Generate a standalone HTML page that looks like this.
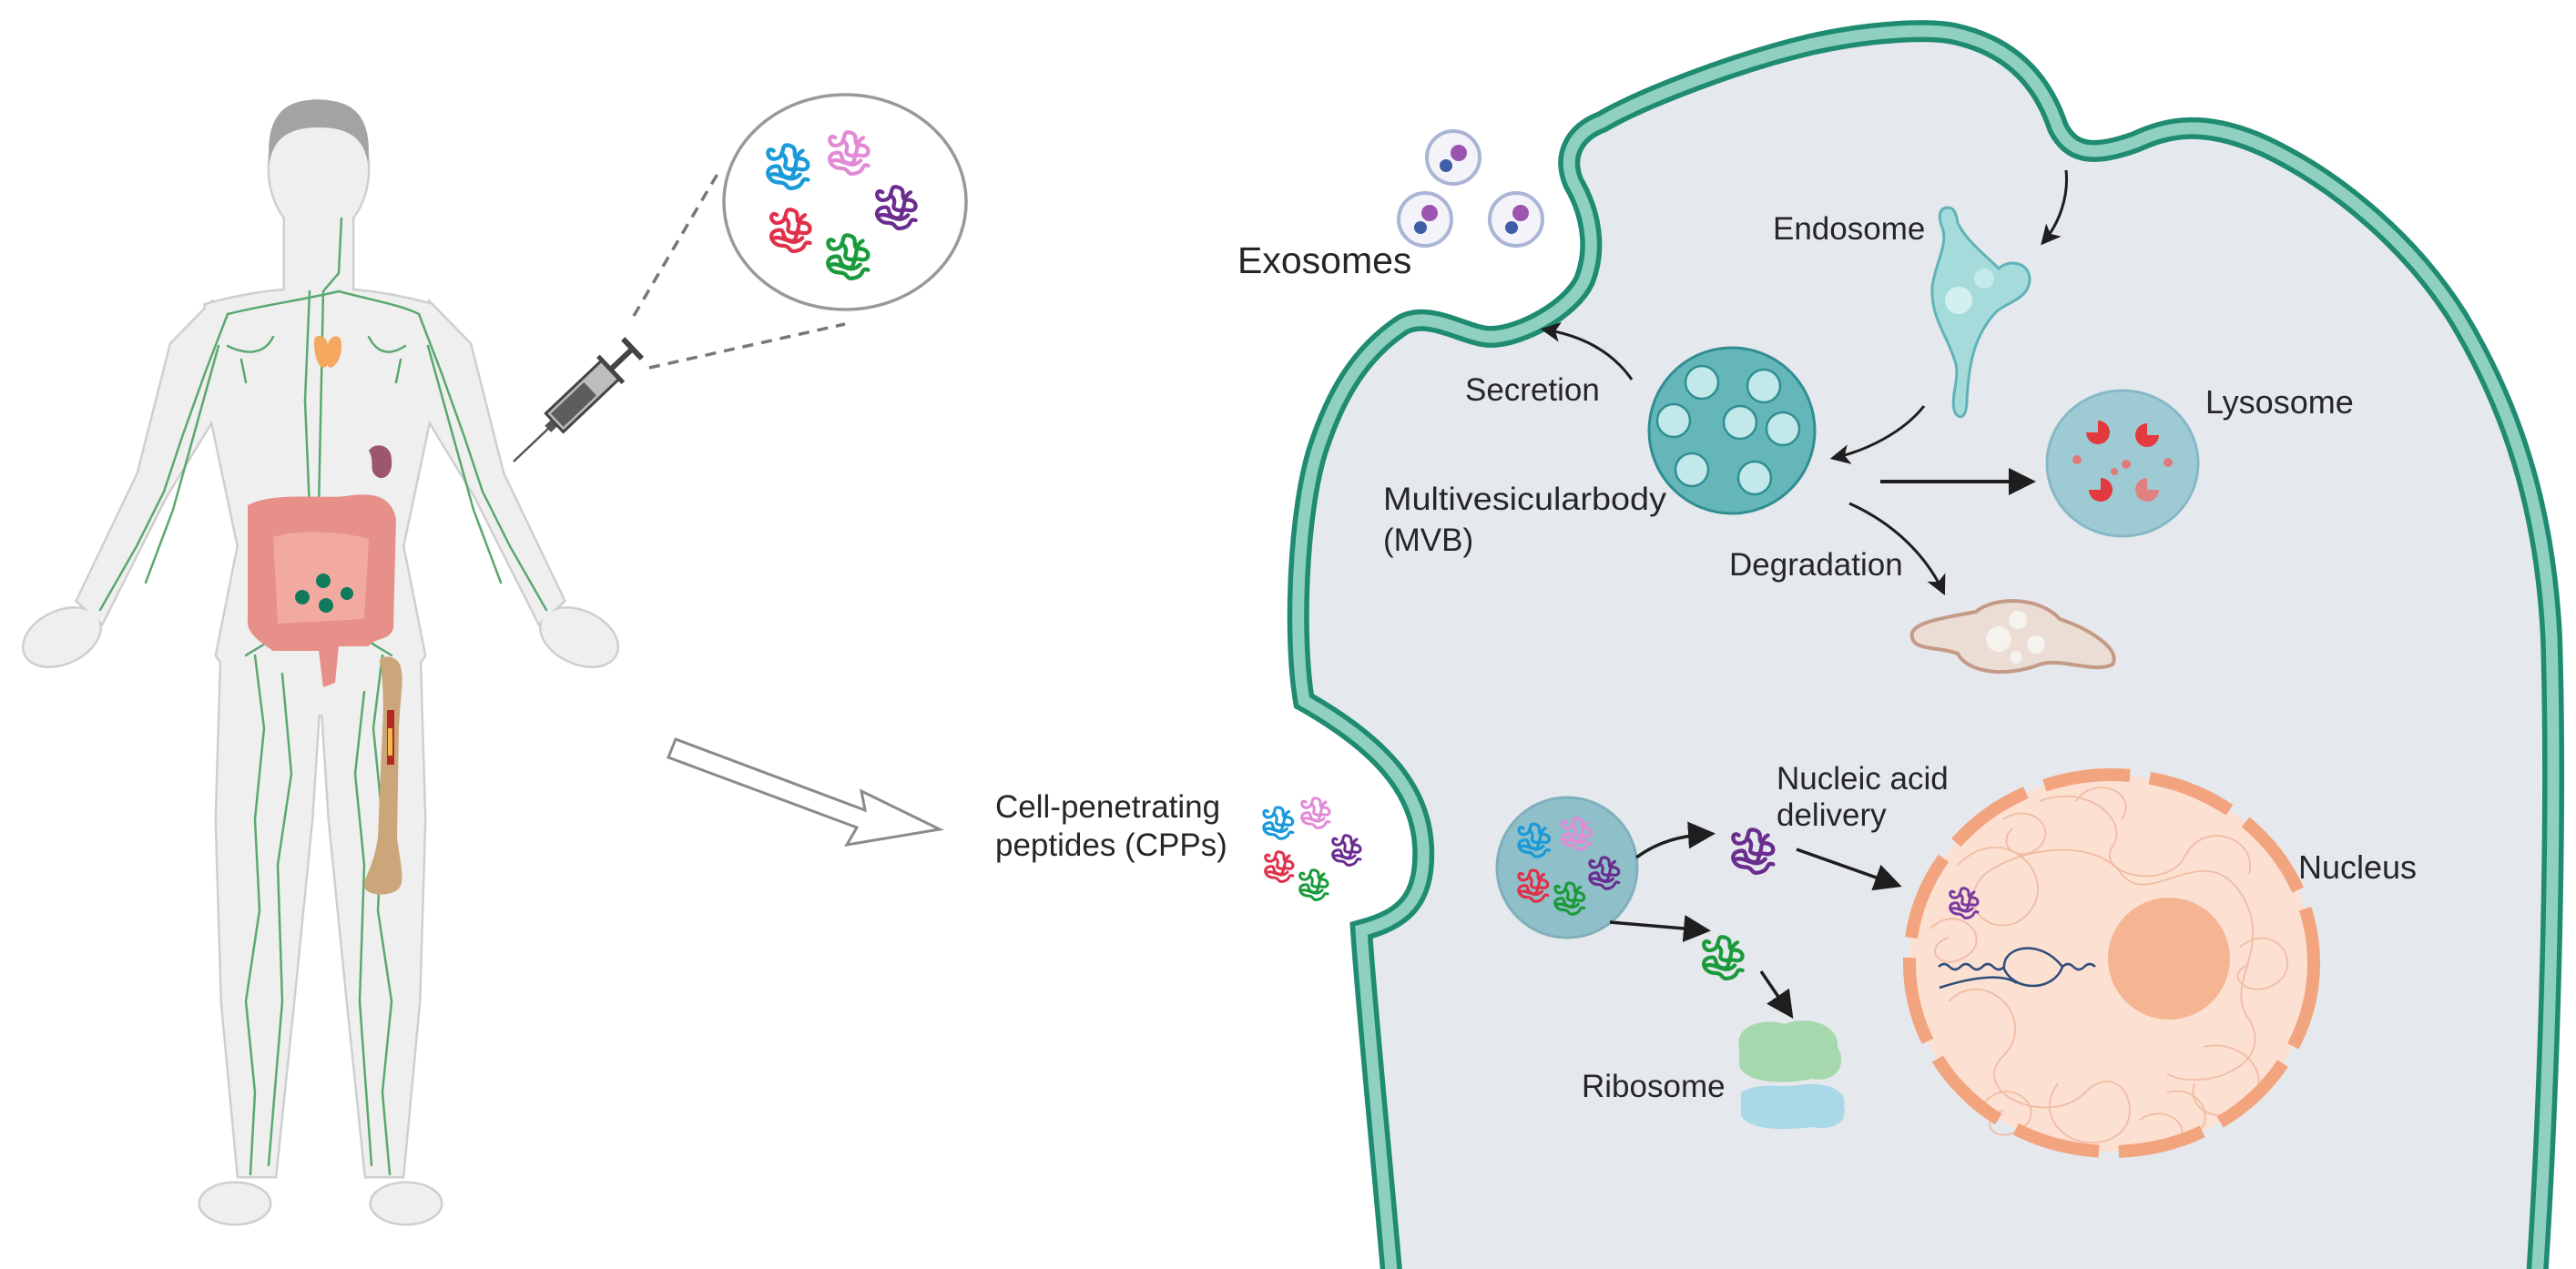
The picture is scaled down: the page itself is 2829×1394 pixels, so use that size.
<!DOCTYPE html>
<html><head><meta charset="utf-8"><style>
html,body{margin:0;padding:0;background:#fff;}
svg{display:block;}
text{font-family:"Liberation Sans",Arial,sans-serif;fill:#262626;}
</style></head><body>
<svg width="2829" height="1394" viewBox="0 0 2829 1394" xmlns="http://www.w3.org/2000/svg">
<defs>
<marker id="ah" viewBox="0 0 10 10" refX="8" refY="5" markerWidth="22" markerHeight="22" markerUnits="userSpaceOnUse" orient="auto"><path d="M0 0 L10 5 L0 10 L2.5 5 Z" fill="#1e1e1e"/></marker>
<marker id="ah2" viewBox="0 0 10 10" refX="8" refY="5" markerWidth="30" markerHeight="30" markerUnits="userSpaceOnUse" orient="auto"><path d="M0 0 L10 5 L0 10 Z" fill="#1e1e1e"/></marker>
<symbol id="sq" viewBox="0 0 40 40"><path d="M8 8 C 2 4, 2 16, 10 14 C 18 12, 12 2, 20 4 C 28 6, 20 14, 28 14 C 36 14, 36 24, 28 22 C 20 20, 26 30, 18 28 C 10 26, 16 18, 8 20 C 0 22, 4 32, 12 32 C 20 32, 16 38, 24 36 C 32 34, 28 28, 34 30 M14 10 C 22 16, 12 20, 20 22 C 28 24, 22 12, 30 8 M6 26 C 14 24, 20 34, 28 26" fill="none" stroke="currentColor" stroke-width="3" stroke-linecap="round"/></symbol>
</defs>

<!-- HUMAN -->
<g id="body">
<g stroke="#cfcfcf" stroke-width="5" fill="#cfcfcf">
 <ellipse cx="350" cy="185" rx="54" ry="74"/>
 <rect x="313" y="240" width="74" height="90"/>
 <path d="M226 335 Q 350 300 474 335 L 480 420 L 442 600 L 466 720 L 420 785 L 285 785 L 238 720 L 262 600 L 224 420 Z"/>
 <path d="M232 333 L 188 378 L 152 520 L 85 660 L 112 684 L 182 545 L 252 430 Z"/>
 <ellipse cx="68" cy="700" rx="44" ry="28" transform="rotate(-25 68 700)"/>
 <path d="M244 700 L 352 745 L 342 900 L 322 1100 L 302 1292 L 262 1292 L 244 1100 L 238 900 Z"/>
 <ellipse cx="258" cy="1322" rx="38" ry="22"/>
 <g transform="translate(704 0) scale(-1 1)">
  <path d="M232 333 L 188 378 L 152 520 L 85 660 L 112 684 L 182 545 L 252 430 Z"/>
  <ellipse cx="68" cy="700" rx="44" ry="28" transform="rotate(-25 68 700)"/>
  <path d="M244 700 L 352 745 L 342 900 L 322 1100 L 302 1292 L 262 1292 L 244 1100 L 238 900 Z"/>
  <ellipse cx="258" cy="1322" rx="38" ry="22"/>
 </g>
</g>
<g fill="#efefef">
 <ellipse cx="350" cy="185" rx="54" ry="74"/>
 <rect x="313" y="240" width="74" height="90"/>
 <path d="M226 335 Q 350 300 474 335 L 480 420 L 442 600 L 466 720 L 420 785 L 285 785 L 238 720 L 262 600 L 224 420 Z"/>
 <path d="M232 333 L 188 378 L 152 520 L 85 660 L 112 684 L 182 545 L 252 430 Z"/>
 <ellipse cx="68" cy="700" rx="44" ry="28" transform="rotate(-25 68 700)"/>
 <path d="M244 700 L 352 745 L 342 900 L 322 1100 L 302 1292 L 262 1292 L 244 1100 L 238 900 Z"/>
 <ellipse cx="258" cy="1322" rx="38" ry="22"/>
 <g transform="translate(704 0) scale(-1 1)">
  <path d="M232 333 L 188 378 L 152 520 L 85 660 L 112 684 L 182 545 L 252 430 Z"/>
  <ellipse cx="68" cy="700" rx="44" ry="28" transform="rotate(-25 68 700)"/>
  <path d="M244 700 L 352 745 L 342 900 L 322 1100 L 302 1292 L 262 1292 L 244 1100 L 238 900 Z"/>
  <ellipse cx="258" cy="1322" rx="38" ry="22"/>
 </g>
</g>
<path d="M296 180 C 290 120, 320 108, 352 110 C 385 110, 410 125, 404 180 C 400 150, 380 140, 350 140 C 320 140, 300 150, 296 180 Z" fill="#a3a3a3"/>
<!-- lymph -->
<g fill="none" stroke="#5aa870" stroke-width="2.5" stroke-linecap="round">
 <path d="M375 240 L 372 300 L 355 320 L 350 560"/>
 <path d="M340 320 L 335 440 L 340 560"/>
 <path d="M250 345 C 290 335, 330 330, 372 320 C 410 330, 440 335, 460 345"/>
 <path d="M250 345 L 225 410 L 200 480 L 180 540 L 150 600 L 110 670"/>
 <path d="M240 380 L 215 470 L 190 560 L 160 640"/>
 <path d="M460 345 L 485 410 L 510 480 L 530 540 L 560 600 L 600 670"/>
 <path d="M470 380 L 495 470 L 520 560 L 550 640"/>
 <path d="M250 380 C 270 390, 290 390, 300 370 M265 395 L 270 420 M445 380 C 430 390, 415 390, 405 370 M440 395 L 435 420"/>
 <path d="M280 720 L 290 800 L 280 900 L 285 1000 L 270 1100 L 280 1200 L 275 1290"/>
 <path d="M310 740 L 320 850 L 305 950 L 310 1100 L 295 1280"/>
 <path d="M420 720 L 410 800 L 420 900 L 415 1000 L 430 1100 L 420 1200 L 428 1290"/>
 <path d="M400 760 L 390 850 L 400 950 L 395 1100 L 408 1280"/>
 <path d="M270 720 C 300 700, 330 700, 350 560 C 370 700, 400 700, 430 720"/>
</g>
<path d="M345 375 C 345 365, 358 368, 360 378 C 362 368, 375 365, 375 378 C 376 400, 360 410, 360 400 C 355 410, 345 400, 345 375 Z" fill="#f5a85f"/>
<path d="M405 495 C 412 485, 430 488, 430 505 C 432 522, 420 530, 412 522 C 405 515, 412 508, 405 495 Z" fill="#9c5670"/>
<path d="M272 555 C 300 540, 350 548, 380 545 C 410 540, 430 545, 435 570 L 432 690 C 428 705, 410 700, 405 710 L 372 710 L 368 750 L 355 755 L 350 715 L 300 715 C 285 705, 270 695, 272 680 Z" fill="#e7908a"/>
<path d="M300 590 C 330 580, 380 585, 405 592 L 400 680 L 305 685 Z" fill="#f2aaa0"/>
<g fill="#0f7a5c"><circle cx="332" cy="656" r="8"/><circle cx="355" cy="638" r="8"/><circle cx="358" cy="665" r="8"/><circle cx="381" cy="652" r="7"/></g>
<path d="M418 730 C 412 720, 432 718, 438 728 C 445 740, 440 760, 438 800 L 436 920 C 440 950, 445 968, 438 976 C 430 985, 405 985, 400 975 C 398 965, 410 955, 415 920 L 420 800 C 422 770, 420 745, 418 730 Z" fill="#caa67a"/>
<rect x="425" y="780" width="8" height="60" fill="#b3281f"/>
<rect x="426" y="800" width="5" height="30" fill="#f5b94a"/>
</g>

<!-- syringe -->
<g transform="translate(564 507) rotate(-43.5)">
 <line x1="0" y1="0" x2="55" y2="0" stroke="#555" stroke-width="2.5"/>
 <rect x="52" y="-5" width="10" height="10" fill="#555"/>
 <rect x="62" y="-14" width="85" height="28" fill="#bdbdbd" stroke="#444" stroke-width="3"/>
 <rect x="66" y="-10" width="50" height="20" fill="#5d5d5d"/>
 <line x1="147" y1="0" x2="180" y2="0" stroke="#444" stroke-width="6"/>
 <line x1="147" y1="-20" x2="147" y2="20" stroke="#444" stroke-width="5"/>
 <line x1="180" y1="-15" x2="180" y2="15" stroke="#444" stroke-width="6"/>
</g>
<line x1="696" y1="347" x2="788" y2="191" stroke="#777" stroke-width="3.5" stroke-dasharray="12 9"/>
<line x1="713" y1="404" x2="928" y2="356" stroke="#777" stroke-width="3.5" stroke-dasharray="12 9"/>
<ellipse cx="928" cy="222" rx="133" ry="118" fill="#fff" stroke="#999" stroke-width="3.5"/>
<use href="#sq" x="838" y="152" width="58" height="62" color="#1a9ad8"/>
<use href="#sq" x="906" y="140" width="56" height="56" color="#e38ad6"/>
<use href="#sq" x="958" y="198" width="56" height="60" color="#6a2d8f"/>
<use href="#sq" x="842" y="222" width="56" height="62" color="#e0304a"/>
<use href="#sq" x="904" y="252" width="58" height="60" color="#1a9a3a"/>

<!-- hollow arrow -->
<path d="M742 812 L 950 890 L 946 869 L 1032 911 L 930 928 L 941 909 L 734 832 Z" fill="#fff" stroke="#8a8a8a" stroke-width="3" stroke-linejoin="miter"/>

<text x="1093" y="898" font-size="35">Cell-penetrating</text>
<text x="1093" y="940" font-size="35">peptides (CPPs)</text>
<use href="#sq" x="1384" y="882" width="42" height="44" color="#1a9ad8"/>
<use href="#sq" x="1426" y="872" width="40" height="42" color="#e38ad6"/>
<use href="#sq" x="1460" y="912" width="40" height="44" color="#6a2d8f"/>
<use href="#sq" x="1386" y="930" width="40" height="44" color="#e0304a"/>
<use href="#sq" x="1424" y="950" width="40" height="44" color="#1a9a3a"/>

<!-- CELL -->
<path d="M 1530 1420 C 1520 1300, 1500 1100, 1495 1022 C 1540 1010, 1566 990, 1563 930 C 1560 870, 1520 820, 1432 770 C 1420 700, 1425 560, 1448 491 C 1465 440, 1490 390, 1540 357 C 1570 340, 1610 370, 1637 370 C 1670 370, 1725 340, 1740 308 C 1755 270, 1745 230, 1728 201 C 1715 170, 1730 145, 1759 134 C 1800 110, 1900 70, 1988 49 C 2050 35, 2120 30, 2150 38 C 2200 50, 2240 80, 2260 140 C 2275 170, 2300 172, 2345 156 C 2380 140, 2420 130, 2488 161 C 2570 200, 2650 270, 2700 350 C 2760 450, 2795 560, 2802 700 C 2808 900, 2800 1200, 2785 1420 Z" fill="#e5e8ec" stroke="#1f8b70" stroke-width="24"/>
<path d="M 1530 1420 C 1520 1300, 1500 1100, 1495 1022 C 1540 1010, 1566 990, 1563 930 C 1560 870, 1520 820, 1432 770 C 1420 700, 1425 560, 1448 491 C 1465 440, 1490 390, 1540 357 C 1570 340, 1610 370, 1637 370 C 1670 370, 1725 340, 1740 308 C 1755 270, 1745 230, 1728 201 C 1715 170, 1730 145, 1759 134 C 1800 110, 1900 70, 1988 49 C 2050 35, 2120 30, 2150 38 C 2200 50, 2240 80, 2260 140 C 2275 170, 2300 172, 2345 156 C 2380 140, 2420 130, 2488 161 C 2570 200, 2650 270, 2700 350 C 2760 450, 2795 560, 2802 700 C 2808 900, 2800 1200, 2785 1420" fill="none" stroke="#8fd0c0" stroke-width="13"/>

<!-- exosomes -->
<g stroke="#aab5d5" stroke-width="4" fill="#f3f3f9">
<circle cx="1596" cy="173" r="29"/><circle cx="1565" cy="241" r="29"/><circle cx="1665" cy="241" r="29"/>
</g>
<g fill="#9b55b0"><circle cx="1602" cy="168" r="9"/><circle cx="1570" cy="234" r="9"/><circle cx="1670" cy="234" r="9"/></g>
<g fill="#3f5ea8"><circle cx="1588" cy="182" r="7"/><circle cx="1560" cy="250" r="7"/><circle cx="1660" cy="250" r="7"/></g>
<text x="1359" y="300" font-size="41">Exosomes</text>

<!-- endosome -->
<path d="M 2139 228 C 2130 228, 2128 238, 2133 250 C 2140 268, 2125 290, 2122 315 C 2120 350, 2140 370, 2148 400 C 2152 420, 2140 440, 2148 455 C 2155 462, 2160 455, 2160 440 C 2162 400, 2168 370, 2190 345 C 2200 332, 2230 330, 2229 305 C 2227 287, 2205 285, 2195 295 C 2180 280, 2160 265, 2150 245 C 2148 232, 2145 228, 2139 228 Z" fill="#a6dbdc" stroke="#5fb3b8" stroke-width="3"/>
<circle cx="2151" cy="330" r="15" fill="#d3f0f0"/><circle cx="2179" cy="306" r="11" fill="#c4eaea"/>
<text x="1947" y="263" font-size="35">Endosome</text>
<path d="M2269 187 C 2272 215, 2262 245, 2244 266" fill="none" stroke="#1e1e1e" stroke-width="3" marker-end="url(#ah)"/>

<!-- MVB -->
<circle cx="1902" cy="473" r="91" fill="#65b6b8" stroke="#2f8e92" stroke-width="3"/>
<g fill="#c2e8ea" stroke="#2f8e92" stroke-width="2.5">
<circle cx="1869" cy="420" r="18"/><circle cx="1937" cy="424" r="18"/><circle cx="1838" cy="462" r="18"/><circle cx="1911" cy="464" r="18"/><circle cx="1958" cy="471" r="18"/><circle cx="1858" cy="516" r="18"/><circle cx="1927" cy="525" r="18"/>
</g>
<path d="M2113 446 C 2090 475, 2050 495, 2014 503" fill="none" stroke="#1e1e1e" stroke-width="3" marker-end="url(#ah)"/>
<text x="1609" y="440" font-size="35">Secretion</text>
<path d="M1792 417 C 1770 385, 1735 368, 1696 362" fill="none" stroke="#1e1e1e" stroke-width="3" marker-end="url(#ah)"/>
<text x="1519" y="560" font-size="35" textLength="311" lengthAdjust="spacingAndGlyphs">Multivesicularbody</text>
<text x="1519" y="605" font-size="35">(MVB)</text>

<!-- Lysosome -->
<line x1="2065" y1="529" x2="2230" y2="529" stroke="#1e1e1e" stroke-width="4" marker-end="url(#ah2)"/>
<ellipse cx="2331" cy="509" rx="83" ry="80" fill="#9ecad4" stroke="#86b9c6" stroke-width="3"/>
<g fill="#e23a3e">
<path d="M2304 475 m-13 0 a13 13 0 1 0 13 -13 l0 13 z"/>
<path d="M2358 478 m13 0 a13 13 0 1 1 -13 -13 l0 13 z"/>
<path d="M2307 538 m-13 0 a13 13 0 1 0 13 -13 l0 13 z"/>
</g>
<path d="M2358 538 m13 0 a13 13 0 1 1 -13 -13 l0 13 z" fill="#e08080"/>
<g fill="#e07a7a"><circle cx="2281" cy="505" r="5"/><circle cx="2335" cy="510" r="5"/><circle cx="2381" cy="508" r="5"/><circle cx="2322" cy="518" r="4"/></g>
<text x="2422" y="454" font-size="36">Lysosome</text>

<!-- degradation -->
<text x="1899" y="632" font-size="35">Degradation</text>
<path d="M2031 553 C 2080 575, 2115 610, 2134 650" fill="none" stroke="#1e1e1e" stroke-width="3" marker-end="url(#ah)"/>
<path d="M2100 700 C 2095 683, 2140 678, 2170 672 C 2190 655, 2240 655, 2262 680 C 2292 690, 2330 712, 2320 730 C 2300 740, 2262 722, 2240 730 C 2200 745, 2160 738, 2150 718 C 2130 710, 2102 715, 2100 700 Z" fill="#ebdcd4" stroke="#c49a86" stroke-width="4"/>
<g fill="#f6f2ee"><circle cx="2195" cy="702" r="14"/><circle cx="2216" cy="681" r="10"/><circle cx="2236" cy="708" r="10"/><circle cx="2214" cy="722" r="7"/></g>

<!-- CPP vesicle -->
<circle cx="1721" cy="953" r="77" fill="#8fbfc8" stroke="#7fb0bb" stroke-width="3"/>
<use href="#sq" x="1664" y="900" width="44" height="46" color="#1a9ad8"/>
<use href="#sq" x="1712" y="894" width="42" height="44" color="#e38ad6"/>
<use href="#sq" x="1742" y="936" width="42" height="46" color="#6a2d8f"/>
<use href="#sq" x="1664" y="950" width="42" height="46" color="#e0304a"/>
<use href="#sq" x="1704" y="964" width="42" height="46" color="#1a9a3a"/>
<path d="M1797 942 C 1820 925, 1845 918, 1878 916" fill="none" stroke="#1e1e1e" stroke-width="3.5" marker-end="url(#ah2)"/>
<use href="#sq" x="1898" y="904" width="58" height="62" color="#6a2d8f"/>
<text x="1951" y="867" font-size="35">Nucleic acid</text>
<text x="1951" y="907" font-size="35">delivery</text>
<path d="M1973 933 L 2083 972" fill="none" stroke="#1e1e1e" stroke-width="3.5" marker-end="url(#ah2)"/>
<path d="M1768 1013 L 1873 1022" fill="none" stroke="#1e1e1e" stroke-width="3.5" marker-end="url(#ah2)"/>
<use href="#sq" x="1866" y="1022" width="56" height="60" color="#1a9a3a"/>
<path d="M1934 1067 L 1966 1114" fill="none" stroke="#1e1e1e" stroke-width="3.5" marker-end="url(#ah2)"/>
<path d="M1910 1150 C 1905 1125, 1940 1118, 1960 1125 C 1985 1115, 2020 1125, 2018 1150 C 2030 1170, 2015 1190, 1990 1185 C 1960 1192, 1915 1190, 1910 1170 Z" fill="#a6d8ae"/>
<path d="M1912 1200 C 1930 1188, 1960 1195, 1975 1192 C 2000 1188, 2030 1195, 2025 1215 C 2030 1235, 2010 1242, 1990 1238 C 1960 1242, 1920 1242, 1912 1225 Z" fill="#a9d8e6"/>
<text x="1737" y="1205" font-size="35">Ribosome</text>

<!-- nucleus -->
<ellipse cx="2319" cy="1058" rx="222" ry="207" fill="#fce0d2"/>
<g fill="none" stroke="#f0bca3" stroke-width="1.8">
<path d="M2150 950 C 2200 900, 2260 960, 2230 1000 C 2200 1040, 2140 1000, 2180 960 C 2220 930, 2300 920, 2330 960 C 2360 1000, 2420 920, 2460 980 C 2500 1040, 2440 1080, 2470 1120 C 2500 1170, 2420 1200, 2380 1180"/>
<path d="M2140 1100 C 2180 1060, 2240 1120, 2200 1160 C 2160 1200, 2250 1240, 2290 1200 C 2330 1160, 2360 1230, 2320 1250 C 2280 1270, 2230 1230, 2260 1190"/>
<path d="M2240 880 C 2290 860, 2340 900, 2320 930 C 2300 960, 2380 980, 2400 940 C 2420 900, 2480 920, 2470 960"/>
<path d="M2420 1150 C 2460 1140, 2500 1180, 2470 1210 C 2440 1240, 2400 1220, 2410 1190"/>
<path d="M2120 1020 C 2150 990, 2190 1030, 2160 1050 C 2130 1070, 2110 1040, 2140 1030 M2180 1210 C 2210 1180, 2250 1220, 2220 1240 C 2190 1260, 2170 1230, 2200 1220"/>
<path d="M2460 1040 C 2500 1010, 2530 1060, 2500 1080 C 2470 1100, 2440 1070, 2470 1060 M2280 880 C 2300 850, 2350 870, 2330 900 M2380 1200 C 2420 1190, 2440 1240, 2400 1250"/>
<path d="M2200 900 C 2230 880, 2260 910, 2240 930 C 2220 950, 2190 930, 2210 910 M2350 1230 C 2380 1210, 2410 1240, 2390 1255"/>
</g>
<ellipse cx="2319" cy="1058" rx="222" ry="207" fill="none" stroke="#f2a47e" stroke-width="14" stroke-dasharray="95 22"/>
<circle cx="2382" cy="1053" r="67" fill="#f5b593"/>
<g fill="none" stroke="#2d4d7a" stroke-width="2.5">
<path d="M2129 1062 q6 -6 12 0 t12 0 t12 0 t12 0 t12 0 t12 0 C 2200 1040, 2240 1030, 2265 1062 q6 -6 12 0 t12 0 t12 0"/>
<path d="M2200 1062 C 2210 1090, 2255 1090, 2265 1062"/>
<path d="M2130 1085 C 2170 1072, 2200 1070, 2215 1080"/>
</g>
<use href="#sq" x="2138" y="970" width="40" height="44" color="#7a3aa0"/>
<text x="2524" y="965" font-size="36">Nucleus</text>
</svg>
</body></html>
